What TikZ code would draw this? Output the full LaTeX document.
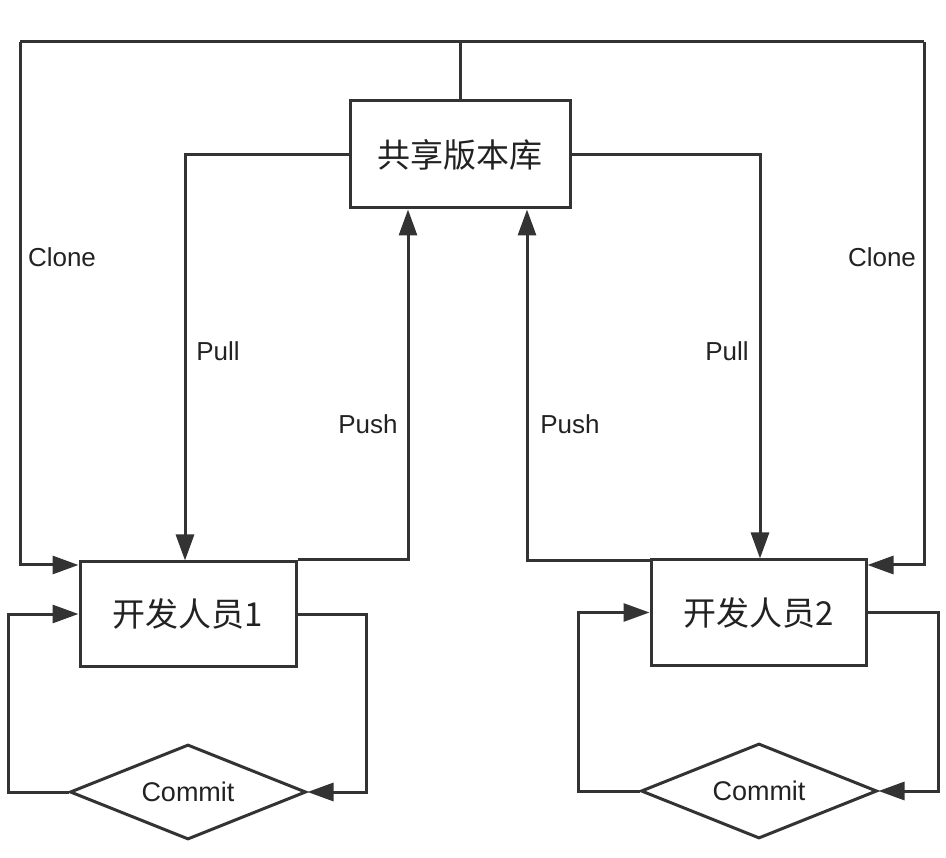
\documentclass[tikz,border=0pt]{standalone}
\usepackage{fontspec}
\setmainfont{Liberation Sans}
\newfontfamily\cjk{Noto Sans CJK SC}
\usetikzlibrary{shapes.geometric,arrows.meta,calc}
\definecolor{ink}{HTML}{333333}
\definecolor{txt}{HTML}{222222}
\begin{document}
\begin{tikzpicture}[x=1pt,y=-1pt,
  line width=3pt, draw=ink, color=ink,
  box/.style={draw=ink, rectangle, line width=3pt, inner sep=0pt, font=\cjk\fontsize{33}{38}\selectfont, text=txt},
  dia/.style={draw=ink, diamond, shape aspect=2.4, line width=3pt, inner sep=0pt, minimum width=236pt, minimum height=95pt, font=\fontsize{27}{32}\selectfont, text=txt},
  lbl/.style={font=\fontsize{26}{30}\selectfont, text=txt, inner sep=0pt},
  arr/.style={-{Triangle[length=26pt,width=18pt]}, draw=ink, line width=3pt}
]
\useasboundingbox (0,0) rectangle (946,858);
\node[box, minimum width=220pt, minimum height=107pt] (repo) at (460,154.5) {共享版本库};
\node[box, minimum width=216pt, minimum height=104pt] (dev1) at (188,614) {开发人员1};
\node[box, minimum width=215pt, minimum height=105pt] (dev2) at (758.5,612.5) {开发人员2};
\node[dia] (c1) at (188,792) {Commit};
\node[dia] (c2) at (759,791) {Commit};
\coordinate (tl) at (20,42);
\coordinate (tr) at (924,42);
% clone
\draw (repo.north) |- (tl);
\draw (repo.north) |- (tr);
\draw[arr] (tl) |- (dev1.west |- 0,565);
\draw[arr] (tr) |- (dev2.east |- 0,565);
% pull
\draw[arr] (repo.west) -| ($(dev1.north)+(-3,0)$);
\draw[arr] (repo.east) -| ($(dev2.north)+(1.5,0)$);
% push
\draw[arr] ($(dev1.north east)+(0,-1)$) -| ($(repo.south)+(-52,0)$);
\draw[arr] ($(dev2.north west)+(0,2)$) -| ($(repo.south)+(67,0)$);
% commit loops
\draw[arr] (dev1.east) -- ++(69,0) |- (c1.east);
\draw[arr] (c1.west) -- ++(-60,0) |- (dev1.west);
\draw[arr] (dev2.east) -- ++(71,0) |- (c2.east);
\draw[arr] (c2.west) -- ++(-61,0) |- (dev2.west);
% labels
\node[lbl] (lclone) at (62,257) {Clone};
\node[lbl] (rclone) at (882,257) {Clone};
\node[lbl] (lpull) at (218,351) {Pull};
\node[lbl] (rpull) at (727,351) {Pull};
\node[lbl] (lpush) at (368,424) {Push};
\node[lbl] (rpush) at (570,424) {Push};
\end{tikzpicture}
\end{document}
